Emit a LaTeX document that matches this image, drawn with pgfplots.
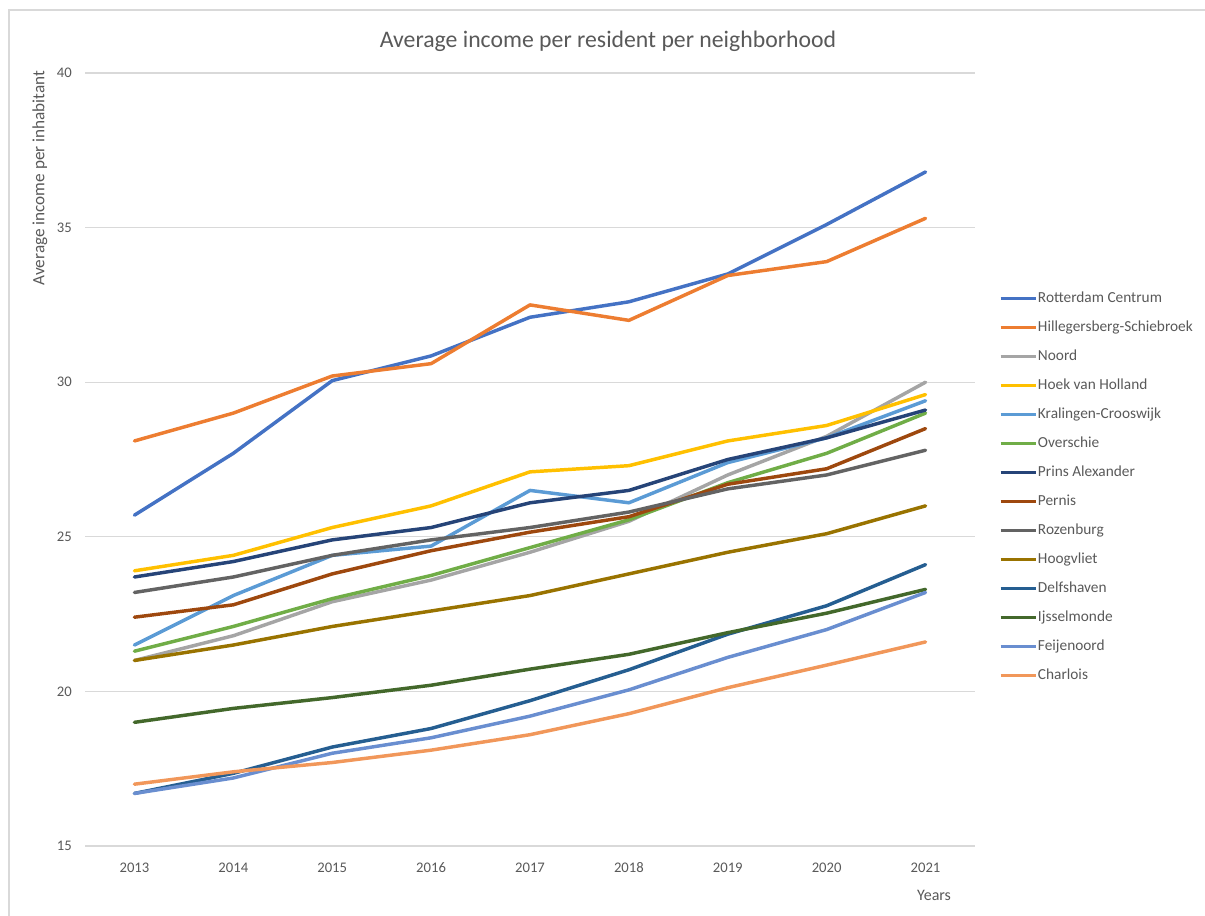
\documentclass[border=0pt]{standalone}
\usepackage{pgfplots}
\usepackage{pgfplotstable}
\pgfplotsset{compat=1.18}
\usepackage{fontspec}
\setmainfont{Carlito}
\definecolor{cA}{HTML}{4472C4}
\definecolor{cB}{HTML}{ED7D31}
\definecolor{cC}{HTML}{A5A5A5}
\definecolor{cD}{HTML}{FFC000}
\definecolor{cE}{HTML}{5B9BD5}
\definecolor{cF}{HTML}{70AD47}
\definecolor{cG}{HTML}{264478}
\definecolor{cH}{HTML}{9E480E}
\definecolor{cI}{HTML}{636363}
\definecolor{cJ}{HTML}{997300}
\definecolor{cK}{HTML}{255E91}
\definecolor{cL}{HTML}{43682B}
\definecolor{cM}{HTML}{698ED0}
\definecolor{cN}{HTML}{F1975A}
\definecolor{txt}{HTML}{595959}
\definecolor{gridc}{HTML}{D9D9D9}
\pgfplotstableread{
year RC HS NO HV KC OV PA PE RO HO DE IJ FE CH
2013 25.7 28.1 21.0 23.9 21.5 21.3 23.7 22.4 23.2 21.0 16.7 19.0 16.7 17.0
2014 27.7 29.0 21.8 24.4 23.1 22.1 24.2 22.8 23.7 21.5 17.35 19.45 17.2 17.4
2015 30.05 30.2 22.9 25.3 24.4 23.0 24.9 23.8 24.4 22.1 18.2 19.8 18.0 17.7
2016 30.85 30.6 23.6 26.0 24.7 23.75 25.3 24.55 24.9 22.6 18.8 20.2 18.5 18.1
2017 32.1 32.5 24.5 27.1 26.5 24.65 26.1 25.15 25.3 23.1 19.7 20.72 19.2 18.6
2018 32.6 32.0 25.5 27.3 26.1 25.55 26.5 25.65 25.8 23.8 20.7 21.2 20.05 19.28
2019 33.5 33.45 27.0 28.1 27.4 26.75 27.5 26.7 26.55 24.5 21.85 21.9 21.1 20.12
2020 35.1 33.9 28.25 28.6 28.2 27.7 28.2 27.2 27.0 25.1 22.77 22.53 22.0 20.85
2021 36.8 35.3 30.0 29.6 29.4 29.0 29.1 28.5 27.8 26.0 24.1 23.3 23.2 21.6
}\datatable
\begin{document}
\begin{tikzpicture}
\draw[gridc, line width=0.9pt] (6.75pt,-20pt) -- (6.75pt,678.75pt) -- (930pt,678.75pt);
\begin{axis}[
  at={(63.75pt,51.75pt)}, anchor=south west,
  scale only axis, width=667.5pt, height=579.75pt,
  xmin=2012.5, xmax=2021.5, ymin=15, ymax=40,
  axis line style={draw=none},
  xmajorgrids=false, ymajorgrids=true,
  major grid style={draw=gridc, line width=0.9pt},
  xtick={2013,2014,2015,2016,2017,2018,2019,2020,2021},
  xticklabels={2013,2014,2015,2016,2017,2018,2019,2020,2021},
  ytick={15,20,25,30,35,40},
  yticklabels={15,20,25,30,35,40},
  major tick length=0pt, tick style={draw=none},
  xticklabel style={anchor=base, yshift=-19.5pt, font=\fontsize{11}{13}\selectfont, text=txt},
  yticklabel style={anchor=east, inner sep=0pt, xshift=-9.75pt, font=\fontsize{11}{13}\selectfont, text=txt},
  every axis title shift=0pt,
  title={Average income per resident per neighborhood},
  title style={at={(axis description cs:0.5876,1.0415)}, anchor=center, font=\fontsize{17.8}{20}\selectfont, text=txt},
  ylabel={Average income per inhabitant},
  ylabel style={at={(axis description cs:-0.0506,0.864)}, anchor=center, font=\fontsize{12.9}{15}\selectfont, text=txt},
  xlabel={Years},
  xlabel style={at={(axis description cs:0.954,-0.0634)}, anchor=center, font=\fontsize{12}{14}\selectfont, text=txt},
  every axis plot/.append style={line width=2.6pt, line join=round, line cap=round},
  legend image code/.code={\draw[#1, line cap=butt] (0pt,0pt) -- (26.25pt,0pt);},
  legend cell align=left,
  legend style={at={(axis description cs:1.0265,0.7277)}, anchor=north west, draw=none, fill=none,
    inner sep=0pt, row sep=0pt, column sep=0.5pt,
    nodes={inner sep=0pt, minimum height=21.75pt, anchor=west, font=\fontsize{11.5}{13}\selectfont, text=txt}},
]
\addplot[cA] table[x=year,y=RC]{\datatable}; \addlegendentry{Rotterdam Centrum}
\addplot[cB] table[x=year,y=HS]{\datatable}; \addlegendentry{Hillegersberg-Schiebroek}
\addplot[cC] table[x=year,y=NO]{\datatable}; \addlegendentry{Noord}
\addplot[cD] table[x=year,y=HV]{\datatable}; \addlegendentry{Hoek van Holland}
\addplot[cE] table[x=year,y=KC]{\datatable}; \addlegendentry{Kralingen-Crooswijk}
\addplot[cF] table[x=year,y=OV]{\datatable}; \addlegendentry{Overschie}
\addplot[cG] table[x=year,y=PA]{\datatable}; \addlegendentry{Prins Alexander}
\addplot[cH] table[x=year,y=PE]{\datatable}; \addlegendentry{Pernis}
\addplot[cI] table[x=year,y=RO]{\datatable}; \addlegendentry{Rozenburg}
\addplot[cJ] table[x=year,y=HO]{\datatable}; \addlegendentry{Hoogvliet}
\addplot[cK] table[x=year,y=DE]{\datatable}; \addlegendentry{Delfshaven}
\addplot[cL] table[x=year,y=IJ]{\datatable}; \addlegendentry{Ijsselmonde}
\addplot[cM] table[x=year,y=FE]{\datatable}; \addlegendentry{Feijenoord}
\addplot[cN] table[x=year,y=CH]{\datatable}; \addlegendentry{Charlois}
\end{axis}
\pgfresetboundingbox
\useasboundingbox (0pt,0pt) rectangle (903.75pt,686.25pt);
\end{tikzpicture}
\end{document}
